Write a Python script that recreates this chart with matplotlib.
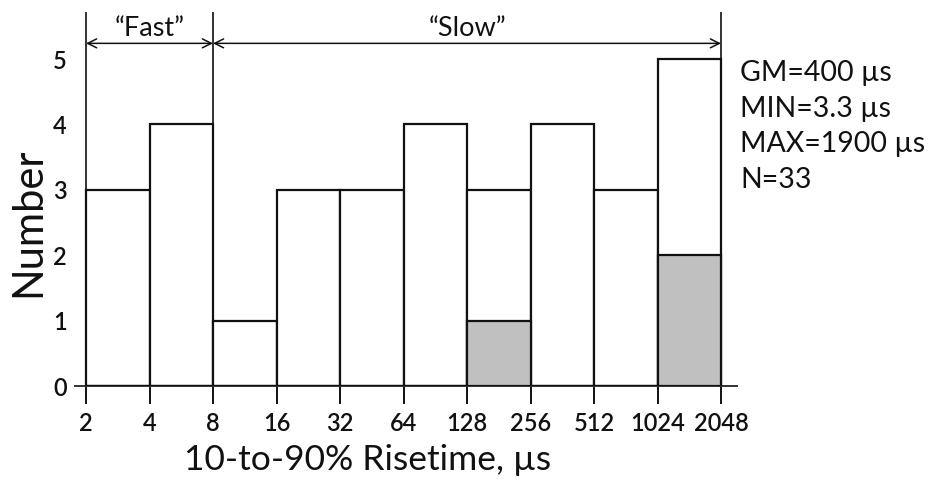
import matplotlib
matplotlib.use("Agg")
import matplotlib.pyplot as plt

plt.rcParams['font.family'] = ['Lato', 'DejaVu Sans']

# Data
bin_edges = [2, 4, 8, 16, 32, 64, 128, 256, 512, 1024, 2048]
counts_total = [3, 4, 1, 3, 3, 4, 3, 4, 3, 5]
counts_gray = [0, 0, 0, 0, 0, 0, 1, 0, 0, 2]
x_tick_labels = ["2", "4", "8", "16", "32", "64", "128", "256", "512", "1024", "2048"]
y_ticks = [0, 1, 2, 3, 4, 5]
group_bounds = [2, 8, 2048]
group_names = ["\u201cFast\u201d", "\u201cSlow\u201d"]
stats_lines = ["GM=400 \u00b5s", "MIN=3.3 \u00b5s", "MAX=1900 \u00b5s", "N=33"]

W, H = 936, 487
fig = plt.figure(figsize=(W / 100, H / 100), dpi=100)
ax = fig.add_axes([75 / W, 101 / H, 662 / W, 376 / H])
ax.set_xscale('log', base=2)
ax.set_xlim(2 ** (1 - 11 / 63.5), 2 ** (11 + 16 / 63.5))
ax.set_ylim(0, 5.75)

lefts = bin_edges[:-1]
widths = [b - a for a, b in zip(bin_edges[:-1], bin_edges[1:])]
ax.bar(lefts, counts_total, width=widths, align='edge', facecolor='white',
       edgecolor='#111111', linewidth=1.6, zorder=2)
ax.bar(lefts, counts_gray, width=widths, align='edge', facecolor='#c0c0c0',
       edgecolor='#111111', linewidth=1.6, zorder=3)

# group boundary lines
ax.vlines(group_bounds, 0, 5.72, colors='#111111', linewidth=1.2, zorder=4)

# arrows
arrow_y = 5.24
for (a, b), name in zip(zip(group_bounds[:-1], group_bounds[1:]), group_names):
    ax.annotate('', xy=(a, arrow_y), xytext=(b, arrow_y),
                arrowprops=dict(arrowstyle='<->', lw=1.1, color='#111111',
                                shrinkA=0, shrinkB=0, mutation_scale=16))
    xm = (a * b) ** 0.5
    ax.text(xm, 5.47, name, ha='center', va='center', fontsize=19.5, color='#111111')

ax.set_xticks(bin_edges)
ax.set_xticklabels(x_tick_labels)
ax.xaxis.set_minor_locator(matplotlib.ticker.NullLocator())
ax.set_yticks(y_ticks)
ax.tick_params(axis='x', direction='out', length=13, width=1.4, labelsize=17, pad=6,
               colors='#111111')
ax.tick_params(axis='y', length=0, labelsize=17, pad=6, colors='#111111')
for s in ['top', 'right', 'left']:
    ax.spines[s].set_visible(False)
ax.spines['bottom'].set_linewidth(1.4)
ax.spines['bottom'].set_color('#333333')

for lab in ax.get_xticklabels() + ax.get_yticklabels():
    lab.set_fontweight('semibold')

# stats text
for i, line in enumerate(stats_lines):
    fig.text(740 / W, 1 - (73 + 35.5 * i) / H, line, ha='left', va='center',
             fontsize=20.5, color='#111111')

fig.text(28 / W, 1 - 222 / H, "Number", rotation=90, ha='center', va='center',
         fontsize=30, color='#111111')
fig.text(368 / W, 1 - 460 / H, "10-to-90% Risetime, \u00b5s", ha='center', va='center',
         fontsize=25.5, color='#111111')

fig.savefig("out.png", dpi=100, facecolor='white')
